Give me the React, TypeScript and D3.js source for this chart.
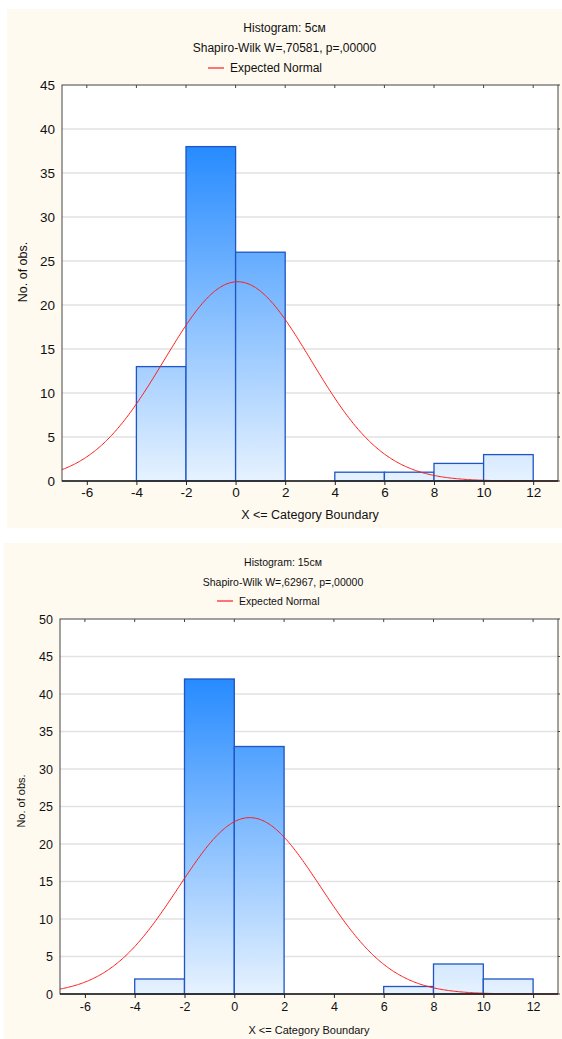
import React, { useEffect, useRef } from 'react';
import * as d3 from 'd3';

// bins: lower edges, width 2
const binStarts = [-6, -4, -2, 0, 2, 4, 6, 8, 10];
const counts5 = [0, 13, 38, 26, 0, 1, 1, 2, 3];
const counts15 = [0, 2, 42, 33, 0, 0, 1, 4, 2];
const xTicks = [-6, -4, -2, 0, 2, 4, 6, 8, 10, 12];
const yTicks5 = [0, 5, 10, 15, 20, 25, 30, 35, 40, 45];
const yTicks15 = [0, 5, 10, 15, 20, 25, 30, 35, 40, 45, 50];

// expected normal parameters
const normal5 = { mean: 0.08, sd: 2.96, n: 84 };
const normal15 = { mean: 0.62, sd: 2.85, n: 84 };

const titles5 = ['Histogram: 5см', 'Shapiro-Wilk W=,70581, p=,00000'];
const titles15 = ['Histogram: 15см', 'Shapiro-Wilk W=,62967, p=,00000'];

const FONT = 'Liberation Sans, Arial, sans-serif';

function drawPanel(svg, cfg) {
  const g = svg.append('g');
  const { bg, plot, counts, yTicks, yMax, normal, titles, text, id } = cfg;

  g.append('rect')
    .attr('x', bg.x).attr('y', bg.y)
    .attr('width', bg.w).attr('height', bg.h)
    .attr('fill', '#fefaf0');

  const x = d3.scaleLinear().domain([-7, 13]).range([plot.left, plot.right]);
  const y = d3.scaleLinear().domain([0, yMax]).range([plot.bottom, plot.top]);

  g.append('rect')
    .attr('x', plot.left).attr('y', plot.top)
    .attr('width', plot.right - plot.left).attr('height', plot.bottom - plot.top)
    .attr('fill', '#fff');

  // gridlines
  g.append('g').selectAll('line')
    .data(yTicks.filter(t => t > 0 && t < yMax)).enter()
    .append('line')
    .attr('x1', plot.left).attr('x2', plot.right)
    .attr('y1', d => y(d)).attr('y2', d => y(d))
    .attr('stroke', '#e2e2e2').attr('stroke-width', 1.5);

  // gradient
  const maxCount = d3.max(counts);
  const grad = svg.append('defs').append('linearGradient')
    .attr('id', id).attr('gradientUnits', 'userSpaceOnUse')
    .attr('x1', 0).attr('x2', 0)
    .attr('y1', y(maxCount)).attr('y2', y(0));
  grad.append('stop').attr('offset', '0%').attr('stop-color', '#278bff');
  grad.append('stop').attr('offset', '100%').attr('stop-color', '#e6f2ff');

  // bars
  g.append('g').selectAll('rect')
    .data(binStarts.map((s, i) => ({ s, c: counts[i] }))).enter()
    .append('rect')
    .attr('x', d => x(d.s))
    .attr('y', d => y(d.c))
    .attr('width', d => x(d.s + 2) - x(d.s))
    .attr('height', d => y(0) - y(d.c))
    .attr('fill', `url(#${id})`)
    .attr('stroke', '#1f55c4')
    .attr('stroke-width', 1.3);

  // expected normal curve
  const xs = d3.range(-7, 13.001, 0.05);
  const pdf = v => (normal.n * 2) / (normal.sd * Math.sqrt(2 * Math.PI)) *
    Math.exp(-0.5 * ((v - normal.mean) / normal.sd) ** 2);
  const line = d3.line().x(d => x(d)).y(d => y(pdf(d)));
  g.append('path')
    .datum(xs)
    .attr('d', line)
    .attr('fill', 'none')
    .attr('stroke', '#ff1a1a')
    .attr('stroke-width', 1);

  // border
  g.append('rect')
    .attr('x', plot.left).attr('y', plot.top)
    .attr('width', plot.right - plot.left).attr('height', plot.bottom - plot.top)
    .attr('fill', 'none').attr('stroke', '#444').attr('stroke-width', 1);
  g.append('line')
    .attr('x1', plot.left).attr('x2', plot.right)
    .attr('y1', plot.bottom).attr('y2', plot.bottom)
    .attr('stroke', '#222').attr('stroke-width', 1.5);

  // bottom axis
  const xAxis = g.append('g')
    .attr('transform', `translate(0,${plot.bottom})`)
    .call(d3.axisBottom(x).tickValues(xTicks).tickSize(4).tickSizeOuter(0).tickFormat(d => String(d)));
  xAxis.select('.domain').remove();
  xAxis.selectAll('line').attr('stroke', '#222');
  xAxis.selectAll('text')
    .attr('font-family', FONT).attr('font-size', text.tick).attr('fill', '#111')
    .attr('y', text.xTickDy).attr('dy', '0.32em');

  // top ticks
  g.append('g').selectAll('line')
    .data(xTicks).enter().append('line')
    .attr('x1', d => x(d)).attr('x2', d => x(d))
    .attr('y1', plot.top).attr('y2', plot.top + 3)
    .attr('stroke', '#444');

  // left axis
  const yAxis = g.append('g')
    .attr('transform', `translate(${plot.left},0)`)
    .call(d3.axisLeft(y).tickValues(yTicks).tickSize(0).tickPadding(text.yPad).tickFormat(d => String(d)));
  yAxis.select('.domain').remove();
  yAxis.selectAll('text')
    .attr('font-family', FONT).attr('font-size', text.tick).attr('fill', '#111');

  // right ticks
  g.append('g').selectAll('line')
    .data(yTicks).enter().append('line')
    .attr('x1', plot.right).attr('x2', plot.right + 2)
    .attr('y1', d => y(d)).attr('y2', d => y(d))
    .attr('stroke', '#444');

  // titles
  const cx = bg.x + bg.w / 2;
  g.append('text').attr('x', cx).attr('y', text.titleY)
    .attr('text-anchor', 'middle').attr('font-family', FONT)
    .attr('font-size', text.title).attr('fill', '#111').attr('dy', '0.35em')
    .text(titles[0]);
  g.append('text').attr('x', cx).attr('y', text.subY)
    .attr('text-anchor', 'middle').attr('font-family', FONT)
    .attr('font-size', text.title).attr('fill', '#111').attr('dy', '0.35em')
    .text(titles[1]);

  // legend
  g.append('line')
    .attr('x1', text.legX).attr('x2', text.legX + 16)
    .attr('y1', text.legY).attr('y2', text.legY)
    .attr('stroke', '#ff1a1a').attr('stroke-width', 1.2);
  g.append('text').attr('x', text.legX + 22).attr('y', text.legY)
    .attr('font-family', FONT).attr('font-size', text.title)
    .attr('fill', '#111').attr('dy', '0.35em')
    .text('Expected Normal');

  // axis labels
  g.append('text').attr('x', (plot.left + plot.right) / 2).attr('y', text.xLabY)
    .attr('text-anchor', 'middle').attr('font-family', FONT)
    .attr('font-size', text.label).attr('fill', '#111').attr('dy', '0.35em')
    .text('X <= Category Boundary');
  g.append('text')
    .attr('transform', `translate(${text.yLabX},${text.yLabY}) rotate(-90)`)
    .attr('text-anchor', 'middle').attr('font-family', FONT)
    .attr('font-size', text.label).attr('fill', '#111').attr('dy', '0.35em')
    .text('No. of obs.');
}

export default function App() {
  const ref = useRef(null);

  useEffect(() => {
    const svg = d3.select(ref.current);
    svg.selectAll('*').remove();

    drawPanel(svg, {
      id: 'grad5',
      bg: { x: 7, y: 9, w: 555, h: 519 },
      plot: { left: 62, right: 558, top: 85, bottom: 481 },
      counts: counts5, yTicks: yTicks5, yMax: 45, normal: normal5, titles: titles5,
      text: {
        tick: 13.5, title: 12, label: 12.5, xTickDy: 12, yPad: 7,
        titleY: 28, subY: 48, legX: 208, legY: 68,
        xLabY: 515, yLabX: 23, yLabY: 272,
      },
    });

    drawPanel(svg, {
      id: 'grad15',
      bg: { x: 4, y: 543, w: 558, h: 496 },
      plot: { left: 60, right: 558, top: 619, bottom: 994 },
      counts: counts15, yTicks: yTicks15, yMax: 50, normal: normal15, titles: titles15,
      text: {
        tick: 12.5, title: 10.5, label: 11, xTickDy: 13, yPad: 7,
        titleY: 562, subY: 582, legX: 217, legY: 601,
        xLabY: 1030, yLabX: 21, yLabY: 801,
      },
    });
  }, []);

  return (
    <svg ref={ref} width={562} height={1039}
      style={{ position: 'absolute', left: 0, top: 0, background: '#fff' }} />
  );
}
